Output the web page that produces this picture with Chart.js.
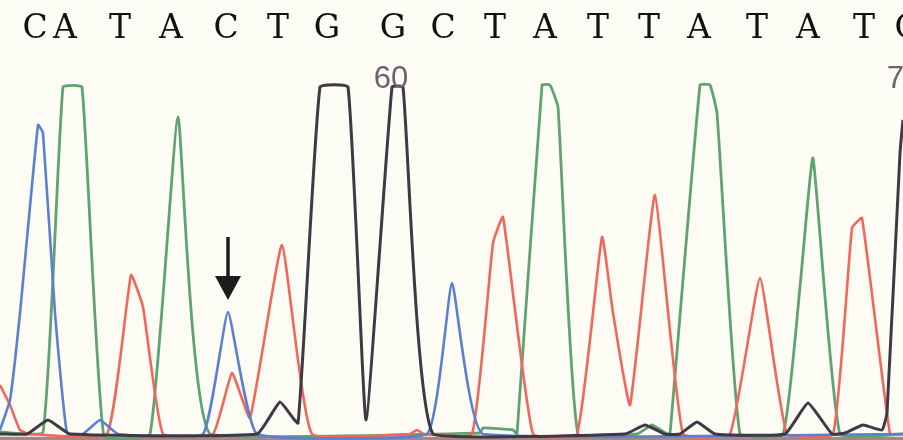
<!DOCTYPE html>
<html>
<head>
<meta charset="utf-8">
<script src="https://cdn.jsdelivr.net/npm/chart.js@4/dist/chart.umd.min.js"></script>
<style>
html,body{margin:0;padding:0;background:#fcfcf5;}
canvas{display:block;}
</style>
</head>
<body>
<canvas id="c" width="903" height="440"></canvas>
<script>
// Base calls and their scan positions
const bases = ["C","A","T","A","C","T","G","G","C","T","A","T","T","A","T","A","T","C"];
const basePos = [35,65,120,171,226,278,327,393,443,495,545,598,649,699,757,808,864,907];
// Position-number labels
const numLabels = ["60","70"];
const numPos = [391,904];
// Marked (arrow) position
const arrowPos = [228];

// Trace intensities: [scan, signal]
const traceC = [[0,7],[10,37],[20,124],[38,312],[43,304],[55,124],[67,4],[83,3],[100,17],[118,3],[203,3],[228,125],[257,3],[427,3],[452,154],[483,3],[903,3]];
const traceA = [[0,5],[43,5],[63,350],[82,350],[104,0],[150,3],[178,320],[210,3],[480,4],[483,9],[513,7],[517,3],[542,352],[550,352],[558,330],[578,3],[637,3],[652,12],[667,3],[670,3],[700,352],[710,352],[717,324],[740,3],[783,3],[800,150],[813,279],[840,3],[903,3]];
const traceT = [[0,52],[10,32],[20,7],[30,3],[107,3],[131,162],[143,130],[163,3],[213,3],[232,64],[250,19],[282,192],[312,3],[410,3],[417,7],[424,3],[472,3],[493,194],[503,220],[533,3],[577,3],[602,200],[613,124],[630,32],[655,242],[683,3],[730,3],[760,159],[787,3],[833,3],[852,209],[862,219],[890,3],[903,3]];
const traceG = [[0,3],[27,3],[48,17],[70,3],[257,3],[280,35],[298,14],[320,350],[348,350],[366,17],[392,350],[403,350],[433,3],[625,3],[645,12],[665,3],[680,3],[697,15],[715,3],[785,3],[808,34],[832,3],[845,4],[863,12],[882,7],[887,24],[900,284],[903,317]];
const baseline = [[0,-1.5],[903,-1.5]];

const toPts = arr => arr.map(p => ({x:p[0], y:p[1]}));

const overlay = {
  id:'overlay',
  afterDatasetsDraw(chart){
    const ctx = chart.ctx, xs = chart.scales.x;
    ctx.save();
    ctx.fillStyle = '#111';
    ctx.font = '33px "DejaVu Serif"';
    ctx.textAlign = 'center';
    ctx.textBaseline = 'alphabetic';
    bases.forEach((b,i)=>ctx.fillText(b, xs.getPixelForValue(basePos[i]), 38));
    ctx.fillStyle = '#6e6070';
    ctx.font = '31px "Liberation Sans"';
    numLabels.forEach((t,i)=>ctx.fillText(t, xs.getPixelForValue(numPos[i]), 88));
    ctx.strokeStyle = '#1c1c1c';
    ctx.fillStyle = '#1c1c1c';
    arrowPos.forEach(p=>{
      const ax = xs.getPixelForValue(p);
      ctx.lineWidth = 3.5;
      ctx.beginPath(); ctx.moveTo(ax, 237); ctx.lineTo(ax, 280); ctx.stroke();
      ctx.beginPath(); ctx.moveTo(ax-13, 276); ctx.lineTo(ax+13, 276); ctx.lineTo(ax, 300); ctx.closePath(); ctx.fill();
    });
    ctx.restore();
  }
};

const bg = {
  id:'bg',
  beforeDraw(chart){
    const ctx = chart.ctx;
    ctx.save(); ctx.fillStyle = '#fcfcf5'; ctx.fillRect(0,0,chart.width,chart.height); ctx.restore();
  }
};

const ds = (data,color,w) => ({data: toPts(data), borderColor: color, borderWidth: w, pointRadius: 0, fill: false, tension: 0.12});

new Chart(document.getElementById('c'), {
  type: 'line',
  data: {
    datasets: [
      ds(traceG,'#3f3846',3),
      ds(traceC,'#5b80d0',2.6),
      ds(traceT,'#f2675c',2.6),
      ds(traceA,'#5fa470',2.8),
      Object.assign(ds(baseline,'#a88585',3.5),{tension:0})
    ]
  },
  options: {
    responsive: false,
    animation: false,
    events: [],
    layout: {padding: 0},
    plugins: {legend:{display:false}, tooltip:{enabled:false}},
    scales: {
      x: {type:'linear', min:0, max:903, display:false},
      y: {type:'linear', min:-3, max:437, display:false}
    }
  },
  plugins: [bg, overlay]
});
</script>
</body>
</html>
